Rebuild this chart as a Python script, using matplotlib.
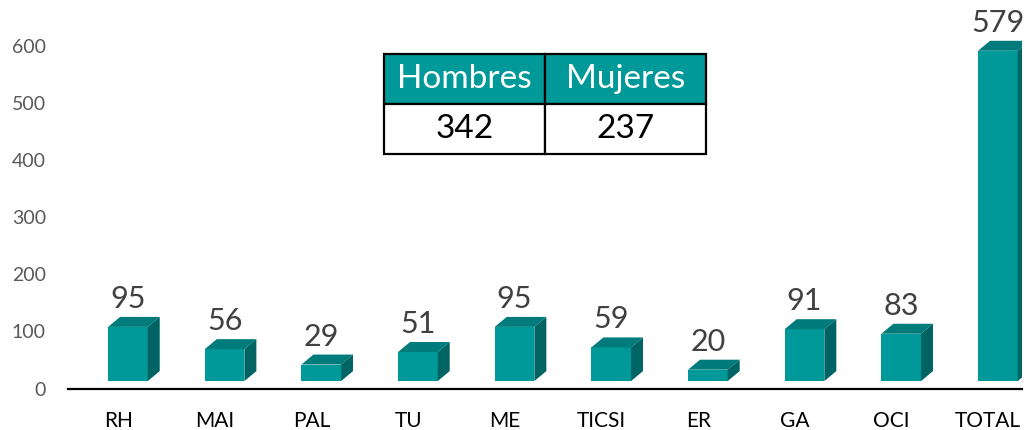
import matplotlib.pyplot as plt
from matplotlib.patches import Polygon
import numpy as np

plt.rcParams['font.family'] = ['Lato', 'DejaVu Sans']

categories = ['RH', 'MAI', 'PAL', 'TU', 'ME', 'TICSI', 'ER', 'GA', 'OCI', 'TOTAL']
values = [95, 56, 29, 51, 95, 59, 20, 91, 83, 579]
table_cols = ['Hombres', 'Mujeres']
table_vals = [342, 237]

front_col = '#009999'
top_col = '#007b7b'
side_col = '#006464'

fig = plt.figure(figsize=(10.25, 4.3), dpi=100)
W, H = 1025, 430
ax_left, ax_right, ax_bot, ax_top = 68, 1022, 388.5, 0
ax = fig.add_axes([ax_left / W, (H - ax_bot) / H, (ax_right - ax_left) / W, (ax_bot - ax_top) / H])

x = np.arange(len(categories))
base = 13       # bars float slightly above the axis line
shift = 0.10    # front face offset to the right of the tick
width = 0.41
dx = 0.124      # depth, x
dy = 17.5       # depth, y

ax.bar(x + shift, values, width=width, bottom=base, color=front_col, zorder=3)
for xi, v in zip(x, values):
    x0 = xi + shift - width / 2
    x1 = xi + shift + width / 2
    top = base + v
    ax.add_patch(Polygon([(x0, top), (x1, top), (x1 + dx, top + dy), (x0 + dx, top + dy)],
                         closed=True, facecolor=top_col, edgecolor='none', zorder=3))
    ax.add_patch(Polygon([(x1, base), (x1 + dx, base + dy), (x1 + dx, top + dy), (x1, top)],
                         closed=True, facecolor=side_col, edgecolor='none', zorder=3))
    ax.annotate(str(v), (xi + shift, top + dy), xytext=(0, 6.5), textcoords='offset points',
                ha='center', va='baseline', fontsize=22, color='#404040', annotation_clip=False)

ax.set_xlim(-0.52, 9.35)
ax.set_ylim(0, 681)
ax.set_yticks(range(0, 700, 100))
ax.set_xticks(x)
ax.set_xticklabels(categories)
ax.tick_params(axis='y', length=0, pad=16, labelsize=14, labelcolor='#595959')
ax.tick_params(axis='x', length=0, pad=16, labelsize=15, labelcolor='black')
for s in ['top', 'right', 'left']:
    ax.spines[s].set_visible(False)
ax.spines['bottom'].set_linewidth(1.6)
ax.spines['bottom'].set_color('black')

# summary table
tb_l, tb_r, tb_t, tb_b = 384, 706, 54, 154
bbox = [(tb_l - ax_left) / (ax_right - ax_left), (ax_bot - tb_b) / ax_bot,
        (tb_r - tb_l) / (ax_right - ax_left), (tb_b - tb_t) / ax_bot]
tbl = ax.table(cellText=[[str(v) for v in table_vals]], colLabels=table_cols,
               cellLoc='center', bbox=bbox, zorder=5)
tbl.auto_set_font_size(False)
for (r, c), cell in tbl.get_celld().items():
    cell.set_linewidth(1.6)
    cell.set_edgecolor('black')
    cell.get_text().set_fontsize(24)
    if r == 0:
        cell.set_facecolor(front_col)
        cell.get_text().set_color('white')
    else:
        cell.set_facecolor('white')
        cell.get_text().set_color('black')

fig.savefig('out.png', dpi=100)
